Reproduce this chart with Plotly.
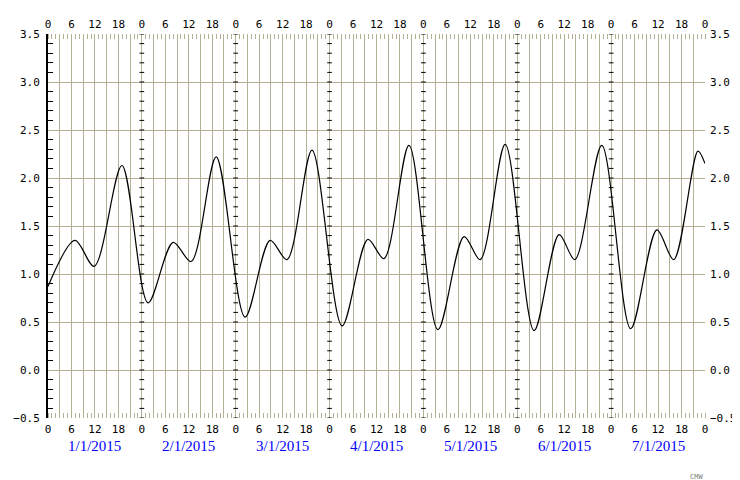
import plotly.graph_objects as go

# tide height extrema (hours since 1/1/2015 00:00)
hours = [0, 6.9, 11.8, 18.9, 25.6, 32.0, 36.6, 43.0, 50.4, 56.8, 61.1, 67.5,
         75.2, 81.8, 85.9, 92.3, 99.7, 106.4, 110.5, 116.9, 124.3, 130.7,
         134.7, 141.6, 149.0, 155.7, 160.0, 166.2, 168]
height = [0.87, 1.35, 1.08, 2.13, 0.70, 1.33, 1.13, 2.22, 0.55, 1.35, 1.15, 2.29,
          0.46, 1.36, 1.16, 2.34, 0.42, 1.39, 1.15, 2.35, 0.41, 1.41,
          1.15, 2.34, 0.43, 1.46, 1.15, 2.28, 2.15]
dates = ["1/1/2015", "2/1/2015", "3/1/2015", "4/1/2015", "5/1/2015", "6/1/2015", "7/1/2015"]

grid = "#b4b096"
tv = list(range(0, 169, 3))
tt = [str(h % 24) if h % 6 == 0 else "" for h in tv]
font = dict(family="DejaVu Sans Mono", size=11, color="black")

fig = go.Figure()
fig.add_trace(go.Scatter(x=hours, y=height, mode="lines", line=dict(color="black", width=1.2, shape="spline", smoothing=0.9)))
fig.add_trace(go.Scatter(x=[0, 168], y=[None, None], xaxis="x2", yaxis="y2", showlegend=False))

xa = dict(range=[0, 168], tickvals=tv, ticktext=tt, showgrid=True, gridcolor=grid, gridwidth=1,
          ticks="", zeroline=False, tickfont=font, automargin=False, ticklabelstandoff=3,
          minor=dict(dtick=1, ticks="inside", ticklen=5, tickcolor=grid, showgrid=False))
ya = dict(range=[-0.5, 3.5], dtick=0.5, tickformat=".1f", showgrid=True, gridcolor=grid, gridwidth=1,
          zeroline=False, tickfont=font, ticks="", showline=True, linecolor="black", linewidth=2,
          automargin=False, ticklabelstandoff=4,
          minor=dict(dtick=0.1, ticks="inside", ticklen=5, tickcolor="black"))
fig.update_layout(
    width=740, height=480, plot_bgcolor="white", paper_bgcolor="white", showlegend=False,
    margin=dict(l=40, r=43, t=26, b=70),
    xaxis=xa,
    xaxis2=dict(xa, overlaying="x", side="top", showgrid=False),
    yaxis=ya,
    yaxis2=dict(ya, overlaying="y", side="right", showgrid=False, showline=False, minor=dict(ticks="")),
)
# short black ticks along each day boundary
shapes = []
for d in range(1, 7):
    for k in range(-5, 36):
        shapes.append(dict(type="line", xref="x", yref="y", x0=24 * d - 0.6, x1=24 * d + 0.6,
                           y0=k / 10, y1=k / 10, line=dict(color="black", width=1)))
fig.update_layout(shapes=shapes)
for i, d in enumerate(dates):
    fig.add_annotation(x=24 * i + 12, y=-0.1, xref="x", yref="paper", text=d, showarrow=False,
                       font=dict(family="Liberation Serif", size=15, color="blue"))
fig.add_annotation(x=1.0, y=-0.17, xref="paper", yref="paper", xanchor="right", text="CMW", showarrow=False,
                   font=dict(family="DejaVu Sans Mono", size=7, color="gray"))
fig.write_html("out.html")
